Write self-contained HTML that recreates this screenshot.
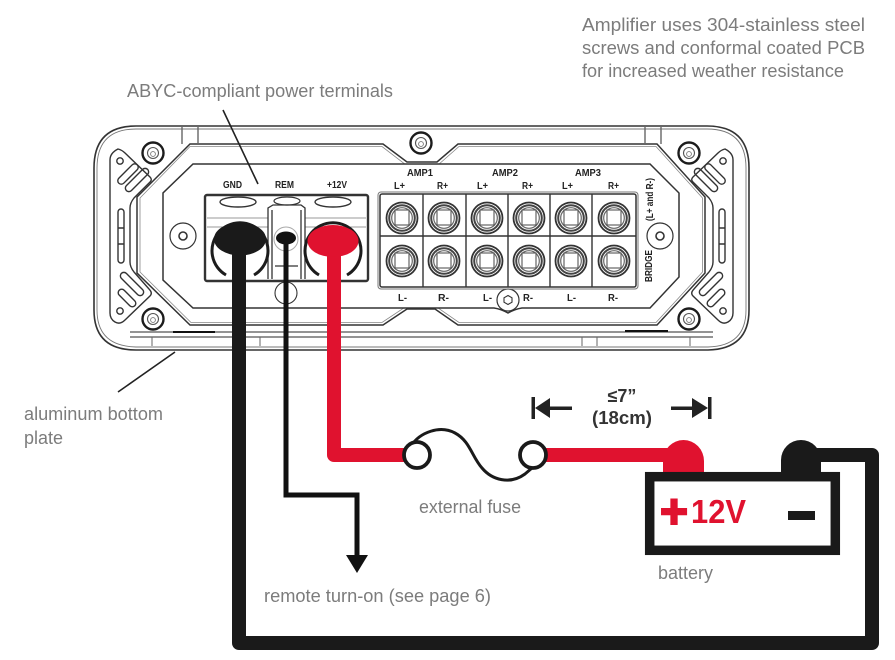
<!DOCTYPE html>
<html><head><meta charset="utf-8"><style>
html,body{margin:0;padding:0;background:#fff;width:895px;height:660px;overflow:hidden}
svg{display:block;filter:blur(.35px)}
text{font-family:"Liberation Sans",sans-serif}
.l{fill:#7c7c7c;font-size:18.500px}
.b{fill:#222;font-size:10px;font-weight:bold}
</style></head><body>
<svg width="895" height="660" viewBox="0 0 895 660" xmlns="http://www.w3.org/2000/svg">
<defs>
<g id="screw"><circle r="10.500" fill="#fff" stroke="#1c1c1c" stroke-width="2.400"/><circle r="5.500" fill="none" stroke="#555" stroke-width="1.100"/><circle cy="1" r="2.400" fill="none" stroke="#777" stroke-width=".9"/></g>
<g id="side" fill="none" stroke="#333" stroke-width="1.400">
<path d="M118 149Q122 150 125 153L150 177Q153 180 149 183L134 198Q130 203 130 208V262Q130 267 134 272L149 289Q153 293 150 296L125 320Q120 325 115 322Q110 319 110 313V160Q110 153 118 149Z"/>
<circle cx="120" cy="161" r="3.200"/><circle cx="120" cy="311" r="3.200"/>
<rect x="-3.500" y="-13" width="7" height="26" rx="3.500" transform="translate(128 174) rotate(45)"/>
<rect x="-3.500" y="-15" width="7" height="30" rx="3.500" transform="translate(137 180) rotate(45)"/>
<rect x="-3.500" y="-15" width="7" height="30" rx="3.500" transform="translate(132 284) rotate(-45)"/>
<rect x="-3.500" y="-11" width="7" height="22" rx="3.500" transform="translate(127 298) rotate(-45)"/>
<rect x="118" y="209" width="6" height="54" rx="3"/><path d="M118 228H124M118 244H124"/>
<path d="M182 127V144M198 127V144" stroke="#666"/>
</g>
<g id="lug"><circle r="15.500" fill="#fff" stroke="#333" stroke-width="1.800"/><circle r="12.800" fill="none" stroke="#444" stroke-width="2"/><circle r="10.300" fill="none" stroke="#666" stroke-width="1.200"/><rect x="-7" y="-8" width="14" height="15" fill="#fff" stroke="#555" stroke-width="1.100"/></g>
</defs>

<!-- amplifier body -->
<g fill="none" stroke="#333">
<path d="M136 126H707Q749 126 749 168V310Q749 349 708 350H136Q94 350 94 310V168Q94 126 136 126Z" stroke-width="1.600"/>
<path d="M136 129H707Q746 129 746 168V310Q746 346 708 347H136Q97 346 97 310V168Q97 129 136 129Z" stroke-width=".9" stroke="#777"/>
<path d="M190 144H383L407 162H437L458 144H657L705 197V273L657 325H458L435 309H407L383 325H190L137 273V197Z" stroke-width="1.500" fill="#fff"/>
<path d="M190 146.500H382L406 165H438L459 146.500H656L702.500 198V272L656 322.500H459L436 306.500H406L382 322.500H191L140 272V198Z" stroke-width=".8" stroke="#888"/>
<path d="M193 164H650L679 193V277L650 308H522Q515 309 508 313Q501 309 494 308H193L163 280V193Z" stroke-width="1.500" fill="#fff"/>
<path d="M130 332H713M130 337H713" stroke-width="1.300" stroke="#555"/>
<path d="M173 332H215M625 331H668" stroke-width="2" stroke="#111"/>
<path d="M152 337V346M260 337V346M582 337V346M597 337V346M690 337V346" stroke-width="1" stroke="#666"/>
</g>
<use href="#side"/>
<use href="#side" transform="translate(843 0) scale(-1 1)"/>
<use href="#screw" x="153" y="153"/><use href="#screw" x="153" y="319"/>
<use href="#screw" x="689" y="153"/><use href="#screw" x="689" y="319"/>
<use href="#screw" x="421" y="143"/>
<g fill="#fff" stroke="#333"><circle cx="183" cy="236" r="13" stroke-width="1.200"/><circle cx="183" cy="236" r="4" stroke-width="1.600"/><circle cx="660" cy="236" r="13" stroke-width="1.200"/><circle cx="660" cy="236" r="4" stroke-width="1.600"/><circle cx="508" cy="300" r="11" stroke-width="1.200"/><path d="M508 295.500L512 297.800V302.200L508 304.500L504 302.200V297.800Z" stroke-width="1.100"/><circle cx="286" cy="293" r="11" stroke-width="1.100"/></g>

<!-- power terminal -->
<g fill="none" stroke="#333">
<rect x="205" y="195" width="163" height="86" rx="2" fill="#fff" stroke-width="2.400"/>
<path d="M207 218H268M305 218H366M207 227H268M305 227H366" stroke="#999" stroke-width="1"/>
<ellipse cx="238" cy="202" rx="18" ry="5" stroke-width="1.400"/><ellipse cx="287" cy="201" rx="13" ry="4" stroke-width="1.200"/><ellipse cx="333" cy="202" rx="18" ry="5" stroke-width="1.400"/>
<path d="M268 279V208L273 205H301L305 208V279M272 279V210M301 279V210M275 266H298" stroke-width="1.300"/>
<path d="M226 275A28 28 0 1 1 254 275" stroke-width="3" stroke="#1c1c1c" fill="#fff"/>
<path d="M319 275A28 28 0 1 1 347 275" stroke-width="3" stroke="#1c1c1c" fill="#fff"/>
<circle cx="286" cy="239" r="12" stroke="#aaa" stroke-width="1"/>
</g>

<!-- speaker terminal -->
<g fill="none" stroke="#333">
<rect x="378" y="192" width="260" height="97" rx="3" stroke-width="1" stroke="#777"/>
<rect x="380" y="194" width="256" height="93" rx="2" stroke-width="1.500"/>
<path d="M423 194V287M466 194V287M508 194V287M550 194V287M592 194V287M380 236H636" stroke-width="1.400"/>
</g>
<use href="#lug" x="402" y="218"/><use href="#lug" x="444" y="218"/><use href="#lug" x="487" y="218"/><use href="#lug" x="529" y="218"/><use href="#lug" x="571" y="218"/><use href="#lug" x="614" y="218"/>
<use href="#lug" x="402" y="261"/><use href="#lug" x="444" y="261"/><use href="#lug" x="487" y="261"/><use href="#lug" x="529" y="261"/><use href="#lug" x="571" y="261"/><use href="#lug" x="614" y="261"/>

<!-- tiny labels -->
<g>
<text class="b" x="223" y="188" textLength="19" lengthAdjust="spacingAndGlyphs">GND</text>
<text class="b" x="275" y="188" textLength="19" lengthAdjust="spacingAndGlyphs">REM</text>
<text class="b" x="327" y="188" textLength="20" lengthAdjust="spacingAndGlyphs">+12V</text>
<text class="b" x="407" y="176" textLength="26" lengthAdjust="spacingAndGlyphs">AMP1</text>
<text class="b" x="492" y="176" textLength="26" lengthAdjust="spacingAndGlyphs">AMP2</text>
<text class="b" x="575" y="176" textLength="26" lengthAdjust="spacingAndGlyphs">AMP3</text>
<text class="b" x="394" y="189" textLength="11" lengthAdjust="spacingAndGlyphs">L+</text><text class="b" x="437" y="189" textLength="11" lengthAdjust="spacingAndGlyphs">R+</text><text class="b" x="477" y="189" textLength="11" lengthAdjust="spacingAndGlyphs">L+</text><text class="b" x="522" y="189" textLength="11" lengthAdjust="spacingAndGlyphs">R+</text><text class="b" x="562" y="189" textLength="11" lengthAdjust="spacingAndGlyphs">L+</text><text class="b" x="608" y="189" textLength="11" lengthAdjust="spacingAndGlyphs">R+</text>
<text class="b" x="398" y="301" textLength="9" lengthAdjust="spacingAndGlyphs">L-</text><text class="b" x="438" y="301" textLength="11" lengthAdjust="spacingAndGlyphs">R-</text><text class="b" x="483" y="301" textLength="9" lengthAdjust="spacingAndGlyphs">L-</text><text class="b" x="523" y="301" textLength="10" lengthAdjust="spacingAndGlyphs">R-</text><text class="b" x="567" y="301" textLength="9" lengthAdjust="spacingAndGlyphs">L-</text><text class="b" x="608" y="301" textLength="10" lengthAdjust="spacingAndGlyphs">R-</text>
<text class="b" transform="translate(652 282) rotate(-90)" textLength="32" lengthAdjust="spacingAndGlyphs">BRIDGE</text>
<text class="b" transform="translate(653 221) rotate(-90)" textLength="43" lengthAdjust="spacingAndGlyphs">(L+ and R-)</text>
</g>

<!-- leader lines -->
<path d="M223 110L258 184M175 352L118 392" stroke="#222" stroke-width="1.600" fill="none"/>

<!-- battery -->
<path d="M663 472V461A20.500 21 0 0 1 704 461V472Z" fill="#e0122f"/>
<path d="M781 472V460A20 20 0 0 1 821 460V472Z" fill="#1a1a1a"/>
<rect x="649.700" y="476.700" width="185.600" height="73.600" fill="#fff" stroke="#1a1a1a" stroke-width="9.500"/>
<rect x="788" y="511" width="27" height="9" fill="#1a1a1a"/>
<text x="674" y="528" text-anchor="middle" font-size="48" font-weight="bold" fill="#e0122f" stroke="#e0122f" stroke-width="2">+</text>
<text x="691" y="523" font-size="33" font-weight="bold" fill="#e0122f" textLength="55" lengthAdjust="spacingAndGlyphs">12V</text>

<!-- wires -->
<g fill="none" stroke-linejoin="round">
<path d="M239 245V643H872V455H810" stroke="#1a1a1a" stroke-width="14"/>
<path d="M286 240V495H357V556" stroke="#111" stroke-width="5" stroke-linejoin="miter"/>
<path d="M334 245V455H417" stroke="#e0122f" stroke-width="14"/>
<path d="M533 455H680" stroke="#e0122f" stroke-width="14"/>
</g>
<path d="M346 555H368L357 573Z" fill="#111"/>
<ellipse cx="240" cy="239" rx="26" ry="16.500" fill="#1a1a1a"/>
<ellipse cx="286" cy="238" rx="10" ry="6.500" fill="#111"/>
<ellipse cx="333" cy="241" rx="25.500" ry="16" fill="#e0122f"/>

<!-- fuse -->
<path d="M411 446C420 432 440 425 455 433C470 441 472 457 482 468C492 480 510 485 525 474L532 468" fill="none" stroke="#1a1a1a" stroke-width="3"/>
<circle cx="417" cy="455" r="13" fill="#fff" stroke="#1a1a1a" stroke-width="3.800"/>
<circle cx="533" cy="455" r="13" fill="#fff" stroke="#1a1a1a" stroke-width="3.800"/>

<!-- dimension -->
<g fill="#222">
<rect x="531.500" y="397" width="3.500" height="22"/><path d="M535 408L550 398V418Z"/><rect x="548" y="406.500" width="24" height="3.500"/>
<rect x="708" y="397" width="3.500" height="22"/><path d="M708 408L692 398V418Z"/><rect x="671" y="406.500" width="23" height="3.500"/>
</g>
<text x="622" y="402" text-anchor="middle" font-size="18" font-weight="bold" fill="#333">≤7”</text>
<text x="592" y="424" font-size="18" font-weight="bold" fill="#333" textLength="60" lengthAdjust="spacingAndGlyphs">(18cm)</text>

<!-- labels -->
<text class="l" x="582" y="31" textLength="283" lengthAdjust="spacingAndGlyphs">Amplifier uses 304-stainless steel</text>
<text class="l" x="582" y="54" textLength="283" lengthAdjust="spacingAndGlyphs">screws and conformal coated PCB</text>
<text class="l" x="582" y="77" textLength="262" lengthAdjust="spacingAndGlyphs">for increased weather resistance</text>
<text class="l" x="127" y="97" textLength="266" lengthAdjust="spacingAndGlyphs">ABYC-compliant power terminals</text>
<text class="l" x="24" y="420" textLength="139" lengthAdjust="spacingAndGlyphs">aluminum bottom</text>
<text class="l" x="24" y="444" textLength="39" lengthAdjust="spacingAndGlyphs">plate</text>
<text class="l" x="419" y="513" textLength="102" lengthAdjust="spacingAndGlyphs">external fuse</text>
<text class="l" x="658" y="579" textLength="55" lengthAdjust="spacingAndGlyphs">battery</text>
<text class="l" x="264" y="602" textLength="227" lengthAdjust="spacingAndGlyphs">remote turn-on (see page 6)</text>
</svg>
</body></html>
